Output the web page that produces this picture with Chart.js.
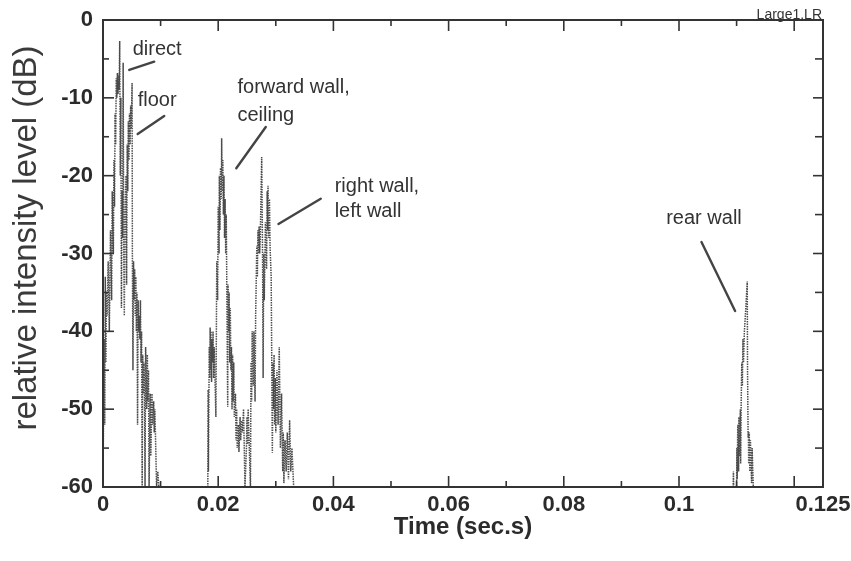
<!DOCTYPE html>
<html>
<head>
<meta charset="utf-8">
<script src="https://cdn.jsdelivr.net/npm/chart.js@4/dist/chart.umd.min.js"></script>
<style>
  html, body { margin: 0; padding: 0; background: #fff; }
</style>
</head>
<body>
<canvas id="myChart" width="851" height="561"></canvas>
<script>
// direct sound + floor reflection (time in s, level in dB)
const directTime = [0, 0.0002, 0.0003, 0.0004, 0.0005, 0.0006, 0.0007, 0.0009, 0.0011, 0.0013,
    0.0015, 0.0016, 0.0018, 0.0019, 0.002, 0.0021, 0.0022, 0.0023, 0.0024, 0.0025,
    0.0026, 0.0027, 0.0028, 0.0029, 0.003, 0.0031, 0.0032, 0.0033, 0.0034, 0.0035,
    0.0036, 0.0037, 0.0038, 0.004, 0.0041, 0.0042, 0.0043, 0.0044, 0.0045, 0.0046,
    0.0047, 0.0048, 0.0049, 0.00505, 0.0051, 0.0052, 0.0053, 0.0054, 0.0055, 0.0056,
    0.0057, 0.0058, 0.0059, 0.006, 0.0061, 0.0062, 0.0063, 0.0064, 0.0065, 0.0066,
    0.0067, 0.0068, 0.0069, 0.007, 0.0071, 0.0072, 0.0073, 0.0074, 0.0076, 0.0077,
    0.0078, 0.0079, 0.008, 0.0082, 0.0083, 0.0085, 0.0086, 0.0088, 0.0089, 0.009,
    0.0091, 0.0093, 0.0095, 0.0097];
const directLevel = [-60, -41, -52, -33, -44, -35, -38, -31, -40, -27,
    -36, -22, -30, -18, -24, -12, -16, -7.5, -10, -6.8,
    -9.5, -7, -9, -2.7, -20, -10, -37, -22, -28, -5.5,
    -30, -38, -26, -20, -34, -16, -22, -13, -18, -12,
    -16, -11, -14, -8.1, -30, -45, -31, -36, -32, -38,
    -33, -40, -35, -52, -36, -40, -38, -41, -36, -44,
    -40, -60, -43, -48, -44, -47, -60, -42, -50, -43,
    -49, -45, -60, -48, -56, -48, -52, -49, -53, -50,
    -53, -60, -58, -60];

// forward wall, ceiling, right wall, left wall
const wallTime = [0.0182, 0.01825, 0.0183, 0.01845, 0.01855, 0.0186, 0.0187, 0.01875, 0.01885, 0.0189,
    0.01905, 0.0191, 0.0192, 0.0193, 0.0194, 0.0196, 0.01975, 0.0199, 0.02, 0.02015,
    0.0202, 0.0203, 0.0204, 0.02055, 0.0206, 0.0207, 0.0208, 0.0209, 0.021, 0.0211,
    0.0212, 0.0213, 0.0214, 0.02165, 0.0217, 0.0218, 0.0219, 0.022, 0.0221, 0.0222,
    0.0223, 0.0224, 0.0225, 0.0226, 0.0227, 0.0228, 0.023, 0.0231, 0.0232, 0.0233,
    0.0235, 0.0236, 0.0238, 0.0239, 0.0241, 0.0242, 0.0244, 0.02465, 0.0249, 0.025,
    0.0251, 0.0252, 0.0256, 0.0257, 0.0258, 0.0259, 0.0261, 0.0262, 0.0264, 0.0265,
    0.0267, 0.0268, 0.0269, 0.027, 0.0271, 0.0272, 0.0273, 0.02755, 0.0277, 0.0278,
    0.0279, 0.028, 0.0282, 0.0284, 0.0285, 0.0286, 0.02865, 0.0288, 0.0289, 0.029,
    0.0292, 0.0294, 0.0295, 0.0296, 0.0297, 0.0298, 0.0299, 0.03, 0.0302, 0.0304,
    0.0306, 0.0308, 0.031, 0.0312, 0.0313, 0.0314, 0.0316, 0.0318, 0.032, 0.0322,
    0.0324, 0.0326, 0.0328, 0.0331];
const wallLevel = [-60, -47.5, -58, -42, -46, -39.5, -45, -40, -46.5, -41,
    -44, -40, -46, -42, -45, -51, -31, -36, -24, -30,
    -20, -27, -19, -23, -15.2, -22, -18, -25, -20, -28,
    -23, -30, -25, -49.7, -34, -40, -35, -44, -37, -45,
    -42, -50, -43, -49, -44, -51, -48, -54, -50, -55,
    -52, -55.5, -51, -54, -51.5, -53, -50, -60, -55, -51,
    -54.5, -50, -60, -44, -49, -40, -47, -40, -49, -38,
    -29, -33, -27, -30, -26.5, -30, -28, -17.6, -30, -46,
    -30, -36, -26, -32, -22, -27, -21.3, -28, -23, -29,
    -33, -55.6, -44, -50, -43, -52, -46, -53, -45, -52,
    -42, -55, -48, -58, -53, -59.5, -54, -58, -53, -59,
    -51.4, -58, -55, -60];

// rear wall
const rearTime = [0.1094, 0.10945, 0.1095, 0.11, 0.11005, 0.1101, 0.1102, 0.11035, 0.1104, 0.1105,
    0.11065, 0.1107, 0.1108, 0.1109, 0.111, 0.1111, 0.1112, 0.11135, 0.1116, 0.11185,
    0.1119, 0.112, 0.11205, 0.1121, 0.1122, 0.1123, 0.1124, 0.1126, 0.1127, 0.1129];
const rearLevel = [-60, -58, -60, -60, -55, -59, -52, -58, -51, -56,
    -50, -57, -49, -44, -47, -41, -44, -40, -37, -33.6,
    -45, -53.6, -53, -57, -53, -58, -54, -59.5, -55, -60];

const xTickValues = [0, 0.02, 0.04, 0.06, 0.08, 0.1, 0.125];
const xMajorMarks = [0.02, 0.04, 0.06, 0.08, 0.1, 0.12];
const xMinorMarks = [0.01, 0.03, 0.05, 0.07, 0.09, 0.11];
const yMajorMarks = [-10, -20, -30, -40, -50];
const yMinorMarks = [-5, -15, -25, -35, -45, -55];

const noteLabels = [
    { text: 'direct', x: 0.00515, y: -3.85 },
    { text: 'floor', x: 0.00602, y: -10.28 },
    { text: 'forward wall,', x: 0.02335, y: -8.61 },
    { text: 'ceiling', x: 0.02335, y: -12.33 },
    { text: 'right wall,', x: 0.04022, y: -21.33 },
    { text: 'left wall', x: 0.04022, y: -24.54 },
    { text: 'rear wall', x: 0.09778, y: -25.44 }
];
const noteLeaders = [
    [0.00456, -6.42, 0.00889, -5.36],
    [0.00602, -14.65, 0.01063, -12.33],
    [0.02314, -19.05, 0.02826, -13.75],
    [0.03046, -26.21, 0.0378, -22.96],
    [0.1039, -28.52, 0.10974, -37.39]
];

const family = '"Liberation Sans", Arial, Helvetica, sans-serif';
const ink = '#2b2b2b';

function pts(t, l) {
    return t.map((x, i) => ({ x: x, y: l[i] }));
}

const frame = {
    id: 'frame',
    afterDraw(chart) {
        const ctx = chart.ctx;
        const a = chart.chartArea;
        const x = chart.scales.x;
        const y = chart.scales.y;
        ctx.save();
        ctx.strokeStyle = '#333';
        ctx.lineWidth = 2;
        ctx.strokeRect(a.left, a.top, a.right - a.left, a.bottom - a.top);

        const mark = (x1, y1, x2, y2) => {
            ctx.beginPath();
            ctx.moveTo(x1, y1);
            ctx.lineTo(x2, y2);
            ctx.stroke();
        };
        ctx.lineWidth = 1.6;
        xMajorMarks.forEach(v => {
            const p = x.getPixelForValue(v);
            mark(p, a.bottom, p, a.bottom - 11);
            mark(p, a.top, p, a.top + 11);
        });
        xMinorMarks.forEach(v => {
            const p = x.getPixelForValue(v);
            mark(p, a.bottom, p, a.bottom - 6);
            mark(p, a.top, p, a.top + 6);
        });
        yMajorMarks.forEach(v => {
            const p = y.getPixelForValue(v);
            mark(a.left, p, a.left + 11, p);
            mark(a.right, p, a.right - 10, p);
        });
        yMinorMarks.forEach(v => {
            const p = y.getPixelForValue(v);
            mark(a.left, p, a.left + 6, p);
            mark(a.right, p, a.right - 8, p);
        });

        // leader lines
        ctx.strokeStyle = '#444';
        ctx.lineWidth = 2.4;
        ctx.lineCap = 'round';
        noteLeaders.forEach(l => {
            mark(x.getPixelForValue(l[0]), y.getPixelForValue(l[1]),
                 x.getPixelForValue(l[2]), y.getPixelForValue(l[3]));
        });

        ctx.fillStyle = '#333';
        ctx.font = '20px ' + family;
        ctx.textAlign = 'left';
        ctx.textBaseline = 'middle';
        noteLabels.forEach(n => {
            ctx.fillText(n.text, x.getPixelForValue(n.x), y.getPixelForValue(n.y));
        });

        ctx.font = '14px ' + family;
        ctx.textAlign = 'right';
        ctx.fillText('Large1.LR', a.right - 1, a.top - 5);

        // y axis title
        ctx.translate(27, 238);
        ctx.rotate(-Math.PI / 2);
        ctx.textAlign = 'center';
        ctx.fillStyle = '#3a3a3a';
        ctx.font = '33px ' + family;
        ctx.fillText('relative intensity level (dB)', 0, 0);
        ctx.restore();
    }
};

const trace = {
    showLine: true,
    pointRadius: 0,
    borderColor: 'rgba(55,55,55,0.9)',
    borderWidth: 1.5,
    borderDash: [1.5, 1],
    fill: false,
    tension: 0
};

const ctx = document.getElementById('myChart').getContext('2d');
const myChart = new Chart(ctx, {
    type: 'scatter',
    data: {
        datasets: [
            { label: 'direct', data: pts(directTime, directLevel), ...trace },
            { label: 'walls', data: pts(wallTime, wallLevel), ...trace },
            { label: 'rear', data: pts(rearTime, rearLevel), ...trace }
        ]
    },
    options: {
        responsive: false,
        animation: false,
        layout: { padding: { left: 0, right: 28, top: 20, bottom: 0 } },
        plugins: { legend: { display: false }, tooltip: { enabled: false } },
        scales: {
            x: {
                type: 'linear',
                min: 0,
                max: 0.125,
                grid: { display: false, drawTicks: false },
                border: { display: false },
                afterBuildTicks: s => { s.ticks = xTickValues.map(v => ({ value: v })); },
                afterFit: s => { s.height = 74; s.paddingLeft = 0; s.paddingRight = 0; },
                ticks: {
                    autoSkip: false,
                    maxRotation: 0,
                    padding: 5,
                    color: ink,
                    font: { family: family, size: 22, weight: 'bold' },
                    callback: v => String(+Number(v).toFixed(3))
                },
                title: {
                    display: true,
                    text: 'Time (sec.s)',
                    color: ink,
                    font: { family: family, size: 24, weight: 'bold' },
                    padding: { top: 0, bottom: 19 }
                }
            },
            y: {
                type: 'linear',
                min: -60,
                max: 0,
                grid: { display: false, drawTicks: false },
                border: { display: false },
                afterFit: s => { s.width = 103; s.paddingTop = 0; s.paddingBottom = 0; },
                ticks: {
                    stepSize: 10,
                    padding: 10,
                    color: ink,
                    font: { family: family, size: 22, weight: 'bold' }
                }
            }
        }
    },
    plugins: [frame]
});
</script>
</body>
</html>
